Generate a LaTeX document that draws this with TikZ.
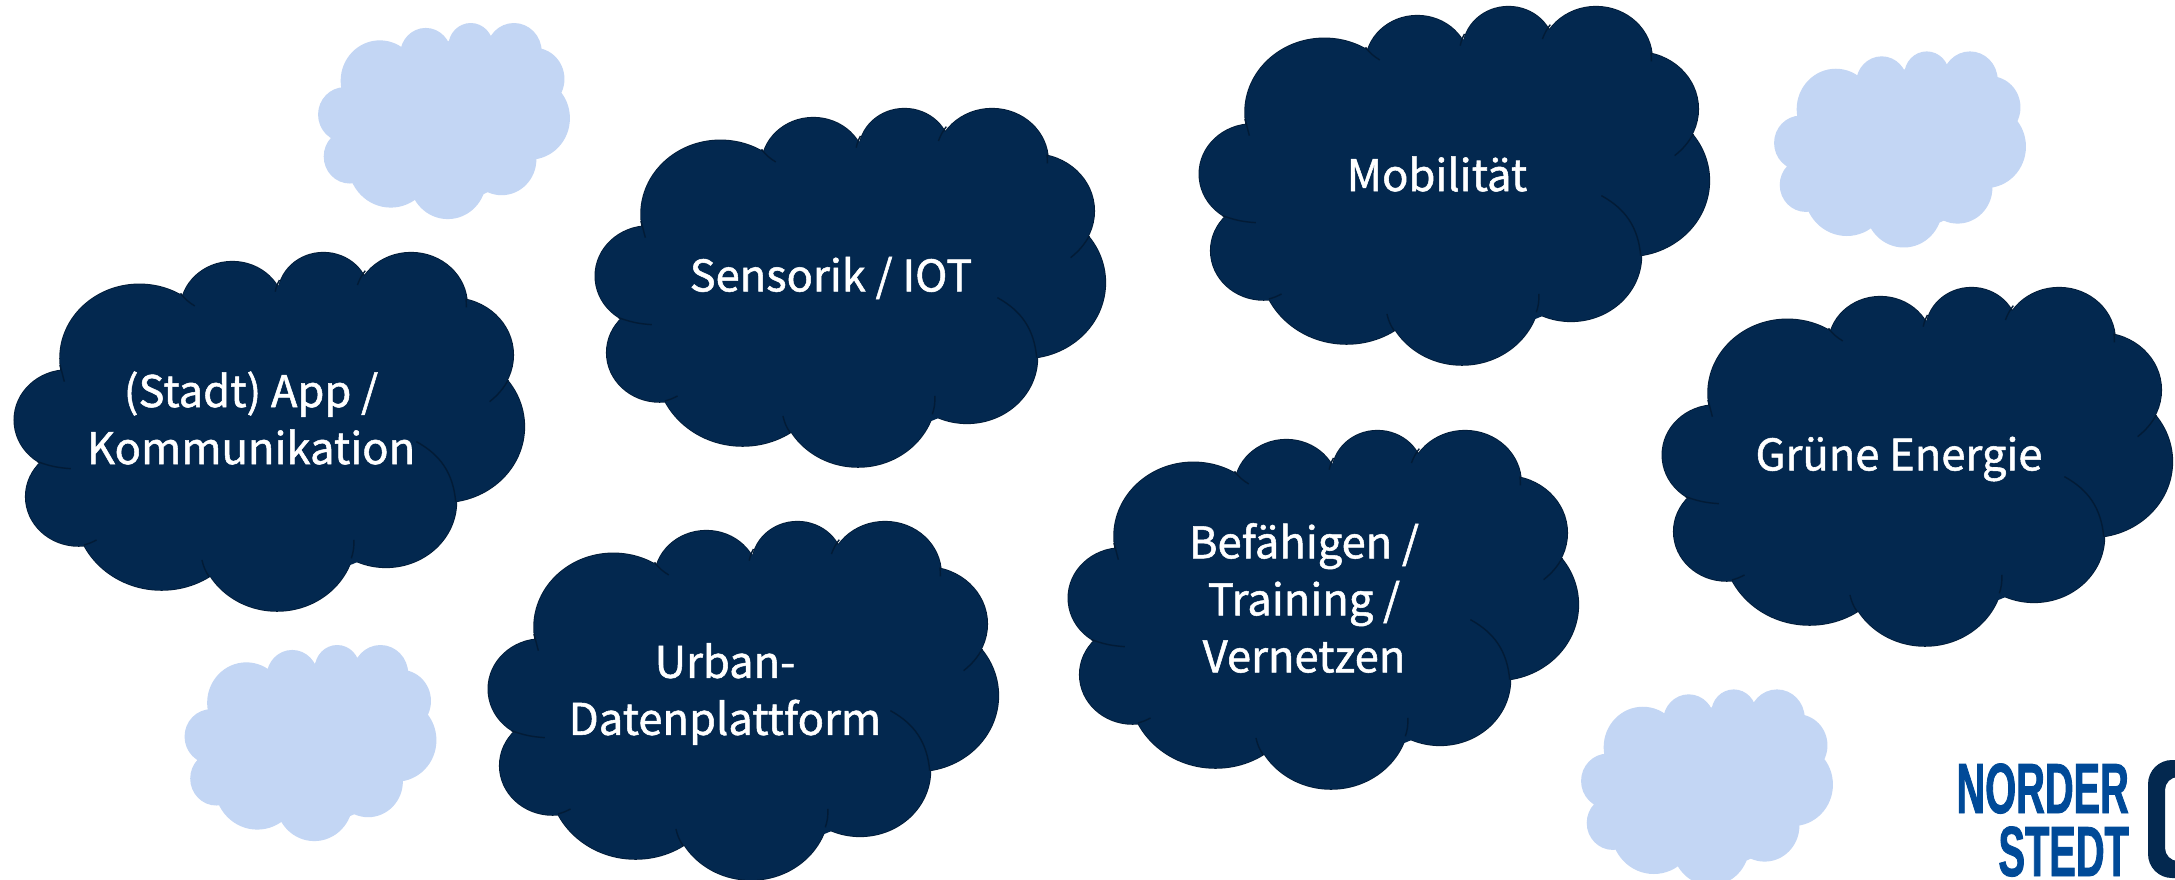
\documentclass[tikz,border=0pt]{standalone}
\usepackage{fontspec}
\setmainfont{Noto Sans CJK SC}[FakeBold=1.2]
\newfontfamily\logofont{Liberation Sans Bold}[FakeStretch=0.56,FakeBold=1.2]
\definecolor{navy}{HTML}{03284F}
\definecolor{navyline}{HTML}{021B36}
\definecolor{pale}{HTML}{C3D6F4}
\definecolor{logoblue}{HTML}{004A98}
\newcommand{\cloudcircles}[1]{%
  \path[#1] (390,385) circle[radius=222] (650,240) circle[radius=145]
    (905,195) circle[radius=127] (1150,225) circle[radius=157]
    (1265,375) circle[radius=171] (1240,590) circle[radius=227]
    (1080,815) circle[radius=197] (775,925) circle[radius=218]
    (452,838) circle[radius=242] (220,800) circle[radius=148]
    (190,570) circle[radius=150];}
\newcommand{\cloudcore}[1]{%
  \path[#1] (700,600) circle[radius=400] (1000,400) circle[radius=250]
    (900,300) circle[radius=180] (1100,600) circle[radius=230]
    (400,650) circle[radius=250] (900,800) circle[radius=220];}
\newcommand{\darkcloud}[2]{%
  \begin{scope}[shift={(#1,#2)},x=0.3574pt,y=-0.3333pt]
    \cloudcircles{draw=navyline,line width=1.6pt}
    \cloudcircles{fill=navy}
    \cloudcore{fill=navy}
    \draw[navyline,line width=1.4pt]
      (545,228) to[bend left=10] (505,190)
      (770,185) to[bend left=8] (782,150)
      (1000,165) to[bend left=8] (1022,122)
      (1305,232) -- (1304,205)
      (1370,515) to[bend right=10] (1422,450)
      (180,455) -- (168,405)
      (198,716) to[bend left=8] (105,695)
      (1165,635) to[bend left=28] (1275,815)
      (990,930) to[bend left=10] (983,985)
      (565,990) to[bend right=10] (585,1040)
      (270,930) to[bend left=6] (235,945);
  \end{scope}}
\newcommand{\palecloud}[2]{%
  \begin{scope}[shift={(#1,#2)},x=0.1765pt,y=-0.1824pt]
    \cloudcircles{fill=pale}
    \cloudcore{fill=pale}
  \end{scope}}
\tikzset{cloudtext/.style={text=white,font=\fontsize{43.5}{57}\selectfont,align=center,inner sep=0pt},
  logotext/.style={text=logoblue,anchor=base east,inner sep=0pt,text height=51pt,text depth=0pt,font=\logofont\fontsize{71}{71}\selectfont}}
\begin{document}
\begin{tikzpicture}[x=1pt,y=-1pt]
\useasboundingbox (0,0) rectangle (2175,879);
\fill[white] (0,0) rectangle (2175,879);
\palecloud{311}{10.6}
\palecloud{1767}{39}
\palecloud{177.5}{632.6}
\palecloud{1574}{677}
\darkcloud{0}{230}
\darkcloud{581}{86}
\darkcloud{1185}{-16}
\darkcloud{1648}{265}
\darkcloud{1054}{408}
\darkcloud{474}{499}
\node[cloudtext] (app) at (251,418) {(Stadt) App /\\Kommunikation};
\node[cloudtext] (sens) at (831,278) {Sensorik / IOT};
\node[cloudtext] (mob) at (1437,174) {Mobilität};
\node[cloudtext] (gruen) at (1899,459) {Grüne Energie};
\node[cloudtext] (bef) at (1304,598) {Befähigen /\\Training /\\Vernetzen};
\node[cloudtext] (urban) at (725,694) {Urban-\\Datenplattform};
\node[logotext] (nor) at (2129,813) {NORDER};
\node[logotext] (ste) at (2129,876) {STEDT};
\begin{scope}
\clip (2140,750) rectangle (2175,879);
\fill[navy,even odd rule,rounded corners=24pt] (2148,760) rectangle (2230,878)
  [rounded corners=13pt] (2165,777) rectangle (2230,861);
\end{scope}
\end{tikzpicture}
\end{document}
